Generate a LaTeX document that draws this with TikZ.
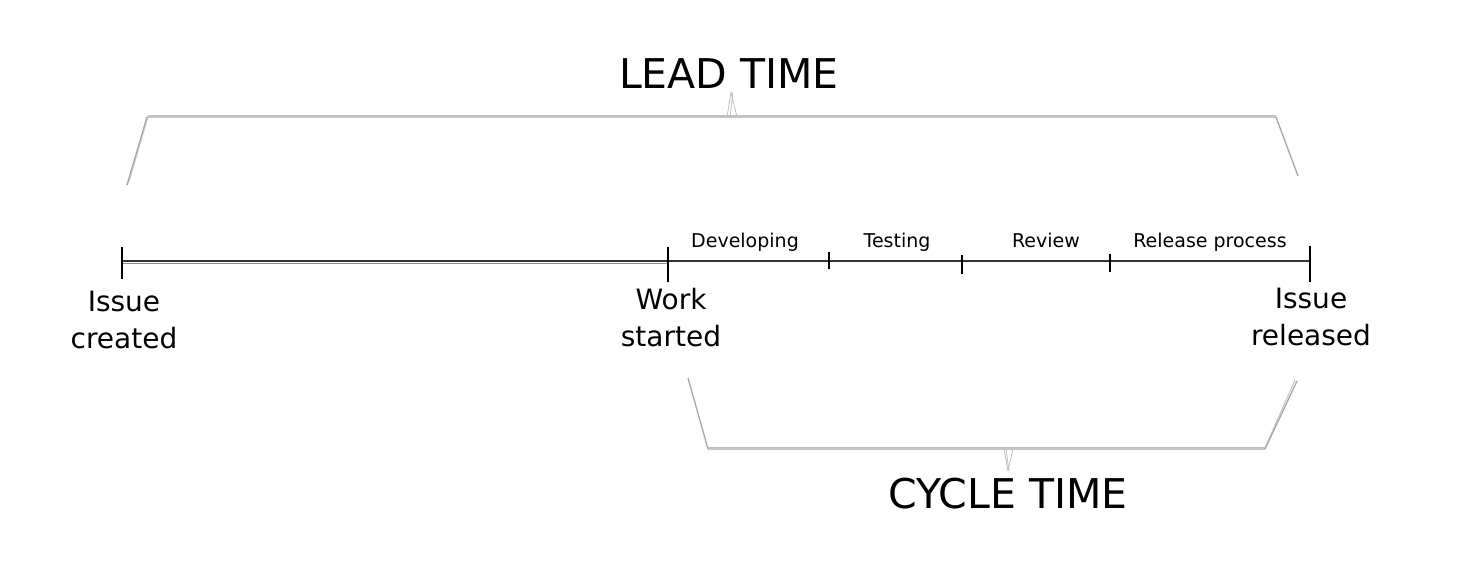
\documentclass[tikz,border=0pt]{standalone}
\usepackage{fontspec}
\setmainfont{DejaVu Sans}
\begin{document}
\begin{tikzpicture}[x=1pt,y=-1pt,
  bracket/.style={draw=black!35,line width=1.3pt,line join=round},
  bracketb/.style={draw=black!25,line width=0.8pt,line join=round},
  axis/.style={draw=black!80,line width=1.6pt},
  bigtick/.style={draw=black,line width=2.2pt},
  smalltick/.style={draw=black,line width=1.2pt},
  phase/.style={font=\fontsize{19}{22}\selectfont,inner sep=0pt,anchor=base},
  event/.style={font=\fontsize{28}{37}\selectfont,align=center,inner sep=0pt,anchor=north},
  title/.style={font=\fontsize{41}{44}\selectfont,inner sep=0pt}]
\useasboundingbox (0,0) rectangle (1475,582);
% timeline coordinates
\coordinate (t0) at (122,261);
\coordinate (t1) at (668,261);
\coordinate (t2) at (829,261);
\coordinate (t3) at (962,261);
\coordinate (t4) at (1110,261);
\coordinate (t5) at (1310,261);
\draw[axis] (t0) -- (t5);
\draw[black!45,line width=0.8pt] ([yshift=-2]t0) -- ([yshift=-2]t1);
\draw[bigtick] ([yshift=-18]t0) -- ([yshift=14]t0);
\draw[bigtick] ([yshift=-21]t1) -- ([yshift=14]t1);
\draw[bigtick] ([yshift=-21]t5) -- ([yshift=15]t5);
\draw[smalltick] ([yshift=-8]t2) -- ([yshift=9]t2);
\draw[smalltick] ([yshift=-13]t3) -- ([yshift=6]t3);
\draw[smalltick] ([yshift=-11]t4) -- ([yshift=7]t4);
% phase labels
\node[phase] (dev) at (745,247) {Developing};
\node[phase] (tst) at (897,247) {Testing};
\node[phase] (rev) at (1046,247) {Review};
\node[phase] (rel) at (1210,247) {Release process};
% event labels
\node[event] (ic) at (124,291) {Issue\\created};
\node[event] (ws) at (671,288) {Work\\started};
\node[event] (ir) at (1311,288) {Issue\\released};
% lead time bracket
\coordinate (la) at (127,185);
\coordinate (lb) at (147,117);
\coordinate (lc) at (1276,117);
\coordinate (ld) at (1298,176);
\coordinate (lt1) at (727,117);
\coordinate (lt2) at (731,92);
\coordinate (lt3) at (737,117);
\draw[bracket] (la) -- (lb) -- (lc) -- (ld);
\draw[bracketb] ([xshift=1.5,yshift=1.5]la) -- ([xshift=1.5,yshift=1.5]lb) -- ([yshift=1.5]lc);
\draw[bracketb] (lt1) -- (lt2) -- (lt3);
\draw[bracketb] ([xshift=3]lt1) -- ([xshift=2]lt2);
\node[title] (lead) at (729,74) {LEAD TIME};
% cycle time bracket
\coordinate (ca) at (688,378);
\coordinate (cb) at (708,449);
\coordinate (cc) at (1265,449);
\coordinate (cd) at (1297,381);
\coordinate (ct1) at (1004,449);
\coordinate (ct2) at (1008,471);
\coordinate (ct3) at (1013,449);
\draw[bracket] (ca) -- (cb) -- (cc) -- (cd);
\draw[bracketb] ([yshift=1.5]cb) -- ([yshift=1.5]cc) -- ([xshift=-2,yshift=1]cd);
\draw[bracketb] (ct1) -- (ct2) -- (ct3);
\draw[bracketb] ([xshift=2]ct1) -- ([xshift=1]ct2);
\node[title] (cycle) at (1008,494) {CYCLE TIME};
\end{tikzpicture}
\end{document}
